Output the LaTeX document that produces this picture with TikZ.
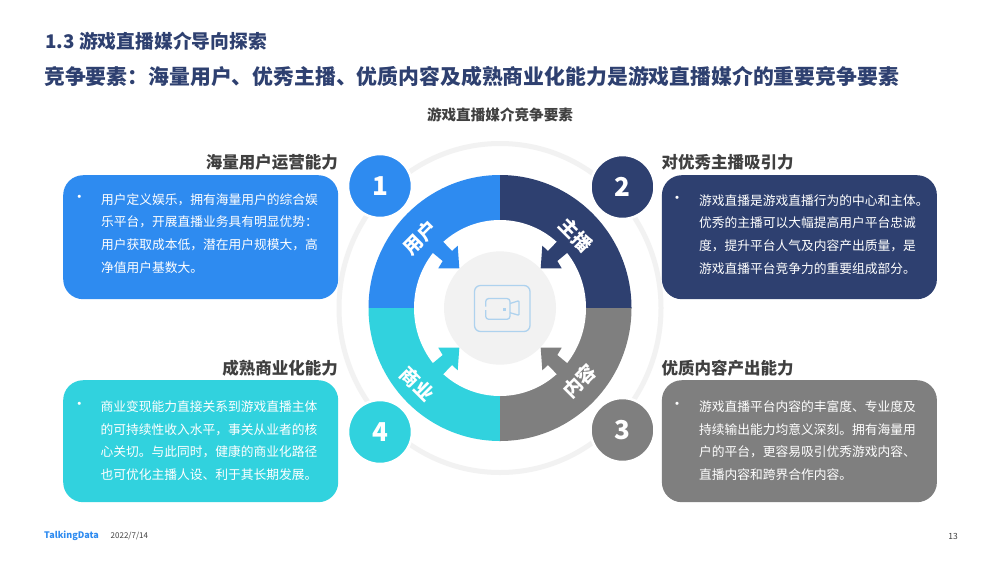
\documentclass[tikz,border=0pt]{standalone}
\usepackage{fontspec}
\setmainfont{Noto Sans CJK SC}
\definecolor{cblue}{HTML}{2E8BF0}
\definecolor{cnavy}{HTML}{2E4070}
\definecolor{ccyan}{HTML}{31D2DE}
\definecolor{cgrey}{HTML}{7F7F7F}
\definecolor{cpale}{HTML}{F2F2F2}
\definecolor{cicon}{HTML}{AED2EE}
\definecolor{chead}{HTML}{404040}
\newcommand{\fs}[2]{\fontsize{#1}{#2}\selectfont}
\newcommand{\cm}{^^^^ff0c}
\newcommand{\cl}{^^^^ff1a}
\newcommand{\quadarrow}[3]{%
  \fill[#3,shift={(500,308)},xscale=#1,yscale=#2]
    (-40.7,-39.7) -- (-42.3,-62.3) -- (-48,-57) -- (-59.5,-69) -- (-70,-57.5)
    -- (-57.3,-47) -- (-61.7,-39.7) -- cycle;}
\tikzset{
  x=1pt,y=-1pt,
  bigbox/.style={rounded corners=20pt,minimum width=275pt,inner sep=0pt,anchor=north west},
  bodytext/.style={anchor=west,align=left,text=white,inner sep=0pt,font=\fs{12.75}{22.6}},
  dot/.style={text=white,inner sep=0pt,font=\fs{15}{15}},
  boxhead/.style={text=chead,inner sep=0pt,font=\fs{16.5}{18}\bfseries},
  numdisc/.style={circle,minimum size=64pt,inner sep=0pt,draw=white,line width=2.5pt,text=white,font=\fs{26}{28}\bfseries},
  ringword/.style={text=white,inner sep=0pt,font=\fs{19}{21}\bfseries},
  camline/.style={draw=cicon,line width=1.3pt},
}
\begin{document}
\begin{tikzpicture}
\path[use as bounding box,fill=white] (0,0) rectangle (1000,563);
% titles
\node[anchor=west,inner sep=0pt,text=cnavy,font=\fs{18.8}{20}\bfseries] (t1) at (45,41.5) {1.3 游戏直播媒介导向探索};
\node[anchor=west,inner sep=0pt,text=cnavy,font=\fs{20.85}{23}\bfseries] (t2) at (44,76.5) {竞争要素\cl 海量用户、优秀主播、优质内容及成熟商业化能力是游戏直播媒介的重要竞争要素};
\node[inner sep=0pt,text=chead,font=\fs{14.6}{16}\bfseries] (t3) at (500,115) {游戏直播媒介竞争要素};
% pale outer ring
\draw[cpale,line width=5pt] (500,308) ellipse [x radius=161pt,y radius=164.5pt];
% quadrants
\begin{scope}
  \clip (500,308) ellipse [x radius=131.5pt,y radius=133pt];
  \fill[cblue] (360,170) rectangle (500,308);
  \fill[cnavy] (500,170) rectangle (640,308);
  \fill[cgrey] (500,308) rectangle (640,450);
  \fill[ccyan] (360,308) rectangle (500,450);
\end{scope}
\fill[white] (500,308) ellipse [x radius=86pt,y radius=88pt];
\quadarrow{1}{1}{cblue}
\quadarrow{-1}{1}{cnavy}
\quadarrow{-1}{-1}{cgrey}
\quadarrow{1}{-1}{ccyan}
\fill[cpale] (500,308) ellipse [x radius=56pt,y radius=56.7pt];
% camera icon
\draw[camline,rounded corners=6pt] (474.5,285.5) rectangle (530,331.5);
\draw[camline,rounded corners=3pt] (485.7,306.5) -- (485.7,298.5) -- (510,298.5) -- (510,319.3) -- (485.7,319.3) -- (485.7,310);
\draw[camline,rounded corners=1pt] (510,303.5) -- (519,300.7) -- (519,315.3) -- (510,312.7);
\fill[cicon] (502.8,307.5) rectangle (505.8,310.5);
% ring words
\node[ringword,rotate=45] (w1) at (420,237.5) {用户};
\node[ringword,rotate=-45] (w2) at (576,235) {主播};
\node[ringword,rotate=45] (w3) at (579.5,381) {内容};
\node[ringword,rotate=-45] (w4) at (417.5,384) {商业};
% number discs
\node[numdisc,fill=cblue] (n1) at (380,186) {1};
\node[numdisc,fill=cnavy] (n2) at (622.5,187) {2};
\node[numdisc,fill=cgrey] (n3) at (622.5,430) {3};
\node[numdisc,fill=ccyan] (n4) at (380,432) {4};
% boxes
\node[bigbox,fill=cblue,minimum height=124pt] (b1) at (63,175) {};
\node[bigbox,fill=cnavy,minimum height=124pt] (b2) at (661.7,175) {};
\node[bigbox,fill=ccyan,minimum height=122pt] (b4) at (63,380) {};
\node[bigbox,fill=cgrey,minimum height=122pt] (b3) at (661.7,380) {};
% headings
\node[boxhead,anchor=east] (h1) at (338,162) {海量用户运营能力};
\node[boxhead,anchor=west] (h2) at (661.5,162) {对优秀主播吸引力};
\node[boxhead,anchor=east] (h4) at (338,368) {成熟商业化能力};
\node[boxhead,anchor=west] (h3) at (661.5,368) {优质内容产出能力};
% bullets
\node[dot] (d1) at (79.3,199) {•};
\node[dot] (d2) at (677,200) {•};
\node[dot] (d4) at (79.3,406) {•};
\node[dot] (d3) at (677,406) {•};
% body
\node[bodytext] (x1) at (101,233.3) {用户定义娱乐\cm 拥有海量用户的综合娱\\乐平台\cm 开展直播业务具有明显优势\cl\\用户获取成本低\cm 潜在用户规模大\cm 高\\净值用户基数大。};
\node[bodytext] (x2) at (699,234.3) {游戏直播是游戏直播行为的中心和主体。\\优秀的主播可以大幅提高用户平台忠诚\\度\cm 提升平台人气及内容产出质量\cm 是\\游戏直播平台竞争力的重要组成部分。};
\node[bodytext] (x4) at (100.5,440.5) {商业变现能力直接关系到游戏直播主体\\的可持续性收入水平\cm 事关从业者的核\\心关切。与此同时\cm 健康的商业化路径\\也可优化主播人设、利于其长期发展。};
\node[bodytext] (x3) at (699,440.5) {游戏直播平台内容的丰富度、专业度及\\持续输出能力均意义深刻。拥有海量用\\户的平台\cm 更容易吸引优秀游戏内容、\\直播内容和跨界合作内容。};
% footer
\node[anchor=west,inner sep=0pt,text=cblue,font=\fs{9}{10}\bfseries] (f1) at (44,536) {TalkingData};
\node[anchor=west,inner sep=0pt,text=chead,font=\fs{8}{9}] (f2) at (110.5,536.5) {2022/7/14};
\node[inner sep=0pt,text=chead,font=\fs{8.5}{9}] (f3) at (953,536.5) {13};
\end{tikzpicture}
\end{document}
